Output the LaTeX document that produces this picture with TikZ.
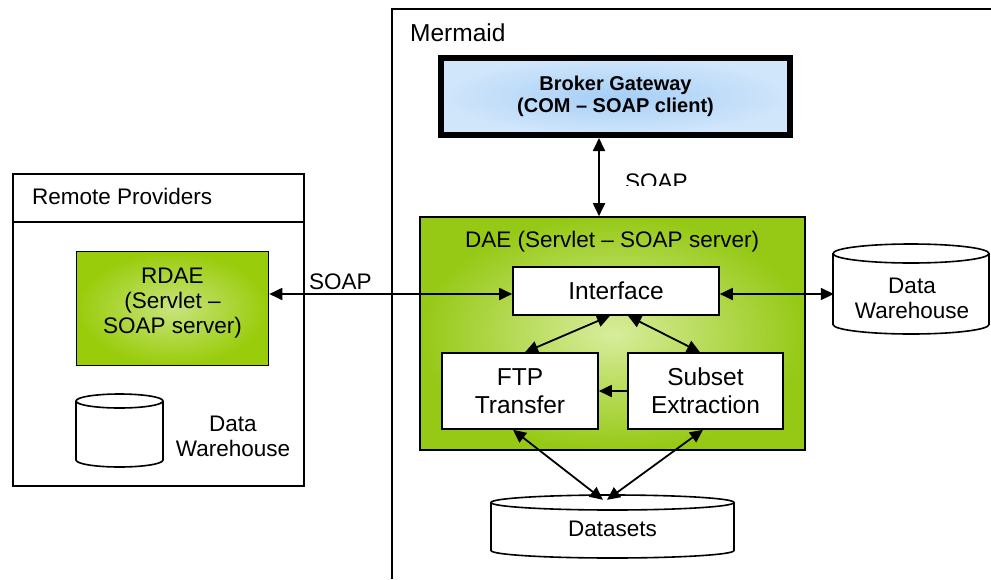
\documentclass[tikz,border=0pt]{standalone}
\usepackage{fontspec}
\setmainfont{Liberation Sans}
\usetikzlibrary{arrows.meta}

\definecolor{limeedge}{RGB}{150,201,22}
\definecolor{limecore}{RGB}{216,237,156}
\definecolor{rdaeedge}{RGB}{153,204,10}
\definecolor{rdaecore}{RGB}{200,228,125}
\definecolor{skyedge}{RGB}{208,230,251}
\definecolor{skycore}{RGB}{166,206,246}

\tikzset{
  txt/.style={font=\fontsize{22.5}{25}\selectfont, inner sep=0pt, align=center},
  frame/.style={draw=black, line width=1.6pt, inner sep=0pt},
  whitebox/.style={draw=black, line width=1.6pt, fill=white, inner sep=0pt,
    align=center, font=\fontsize{24.5}{28}\selectfont},
  link/.style={line width=1.8pt,
    {Triangle[length=13pt,width=12pt]}-{Triangle[length=13pt,width=12pt]}},
  oneway/.style={line width=1.8pt, -{Triangle[length=13pt,width=12pt]}},
  drum/.style={draw=black, line width=1.6pt},
}

% database drum: left x, right x, top-rim centre y, bottom-rim centre y, rim half-height
\newcommand{\dbdrum}[5]{%
  \pgfmathsetmacro\drumrx{(#2-#1)/2}%
  \filldraw[drum, fill=white] (#1,#3) -- (#1,#4)
    arc[start angle=180, end angle=360, x radius=\drumrx pt, y radius=#5pt]
    -- (#2,#3)
    arc[start angle=0, end angle=180, x radius=\drumrx pt, y radius=#5pt] -- cycle;
  \draw[drum] (#1,#3)
    arc[start angle=180, end angle=360, x radius=\drumrx pt, y radius=#5pt];
}

\begin{document}
\begin{tikzpicture}[x=1pt, y=-1pt]
\useasboundingbox (0,0) rectangle (991,579);

% ---- Mermaid area (open frame) ----
\draw[line width=2pt] (391.5,579) -- (391.5,8.5) -- (991,8.5);
\node[txt, font=\fontsize{24.5}{28}\selectfont, anchor=base west] (mermaid) at (410,41) {Mermaid};

% ---- Remote providers ----
\node[frame, minimum width=291.4pt, minimum height=312.4pt] (rp) at (158.5,330) {};
\coordinate (hdr) at (0,222);
\draw[line width=1.6pt] (rp.west |- hdr) -- (rp.east |- hdr);
\node[txt, anchor=base west] (rplabel) at (32,204) {Remote Providers};

\node[frame, minimum width=192pt, minimum height=114pt,
      inner color=rdaecore, outer color=rdaeedge] (rdae) at (172.5,308.5) {};
\node[txt] (rdaetext) at (172.5,303) {RDAE\\(Servlet --\\SOAP server)};

\dbdrum{76}{163}{401}{460}{7}
\node[txt] (dwl) at (233,436) {Data\\Warehouse};

% ---- Broker gateway ----
\node[draw=black, line width=6pt, minimum width=349pt, minimum height=77pt,
      inner color=skycore, outer color=skyedge, align=center, inner sep=0pt,
      font=\fontsize{20}{22.5}\selectfont\bfseries] (broker) at (615.5,96.5)
      {Broker Gateway\\(COM -- SOAP client)};

% ---- DAE ----
\node[frame, minimum width=385pt, minimum height=233pt,
      inner color=limecore, outer color=limeedge] (dae) at (612.5,333.5) {};
\node[txt, anchor=base west] (daelabel) at (465,247) {DAE (Servlet -- SOAP server)};

\node[whitebox, minimum width=206pt, minimum height=48pt] (iface) at (616,291) {Interface};
\node[whitebox, minimum width=156pt, minimum height=76pt] (ftp) at (520,391) {FTP\\Transfer};
\node[whitebox, minimum width=155pt, minimum height=76pt] (sub) at (705.5,391) {Subset\\Extraction};

% ---- data stores ----
\dbdrum{833}{989}{253.5}{324.5}{9.5}
\node[txt, minimum width=156pt] (dwr) at (912,298.5) {Data\\Warehouse};

\dbdrum{491}{734}{502.5}{550.5}{7.5}
\node[txt, minimum height=58pt] (ds) at (612.5,529) {Datasets};

% ---- connectors ----
\coordinate (bgs) at ([xshift=-16.5pt]broker.south);
\draw[link] (bgs) -- (dae.north -| bgs);
\begin{scope}
  \clip (600,150) rectangle (720,185.5);
  \node[txt, anchor=base west] (soaptop) at (625,189) {SOAP};
\end{scope}

\coordinate (ifl) at ([yshift=-3pt]iface.west);
\draw[link] (rdae.east |- ifl) -- (ifl);
\node[txt, anchor=base west] (soapleft) at (309,289) {SOAP};
\draw[link] (iface.east |- ifl) -- (dwr.west |- ifl);

\draw[link] ([xshift=-6pt]iface.south) -- ([xshift=5pt]ftp.north);
\draw[link] ([xshift=12pt]iface.south) -- ([xshift=-5.5pt]sub.north);
\draw[oneway] (sub.west) -- (ftp.east);

\draw[link] ([xshift=-7pt]ftp.south) -- ([xshift=-9.5pt]ds.north);
\draw[link] ([xshift=-2.5pt]sub.south) -- ([xshift=-5.5pt]ds.north);
\end{tikzpicture}
\end{document}
